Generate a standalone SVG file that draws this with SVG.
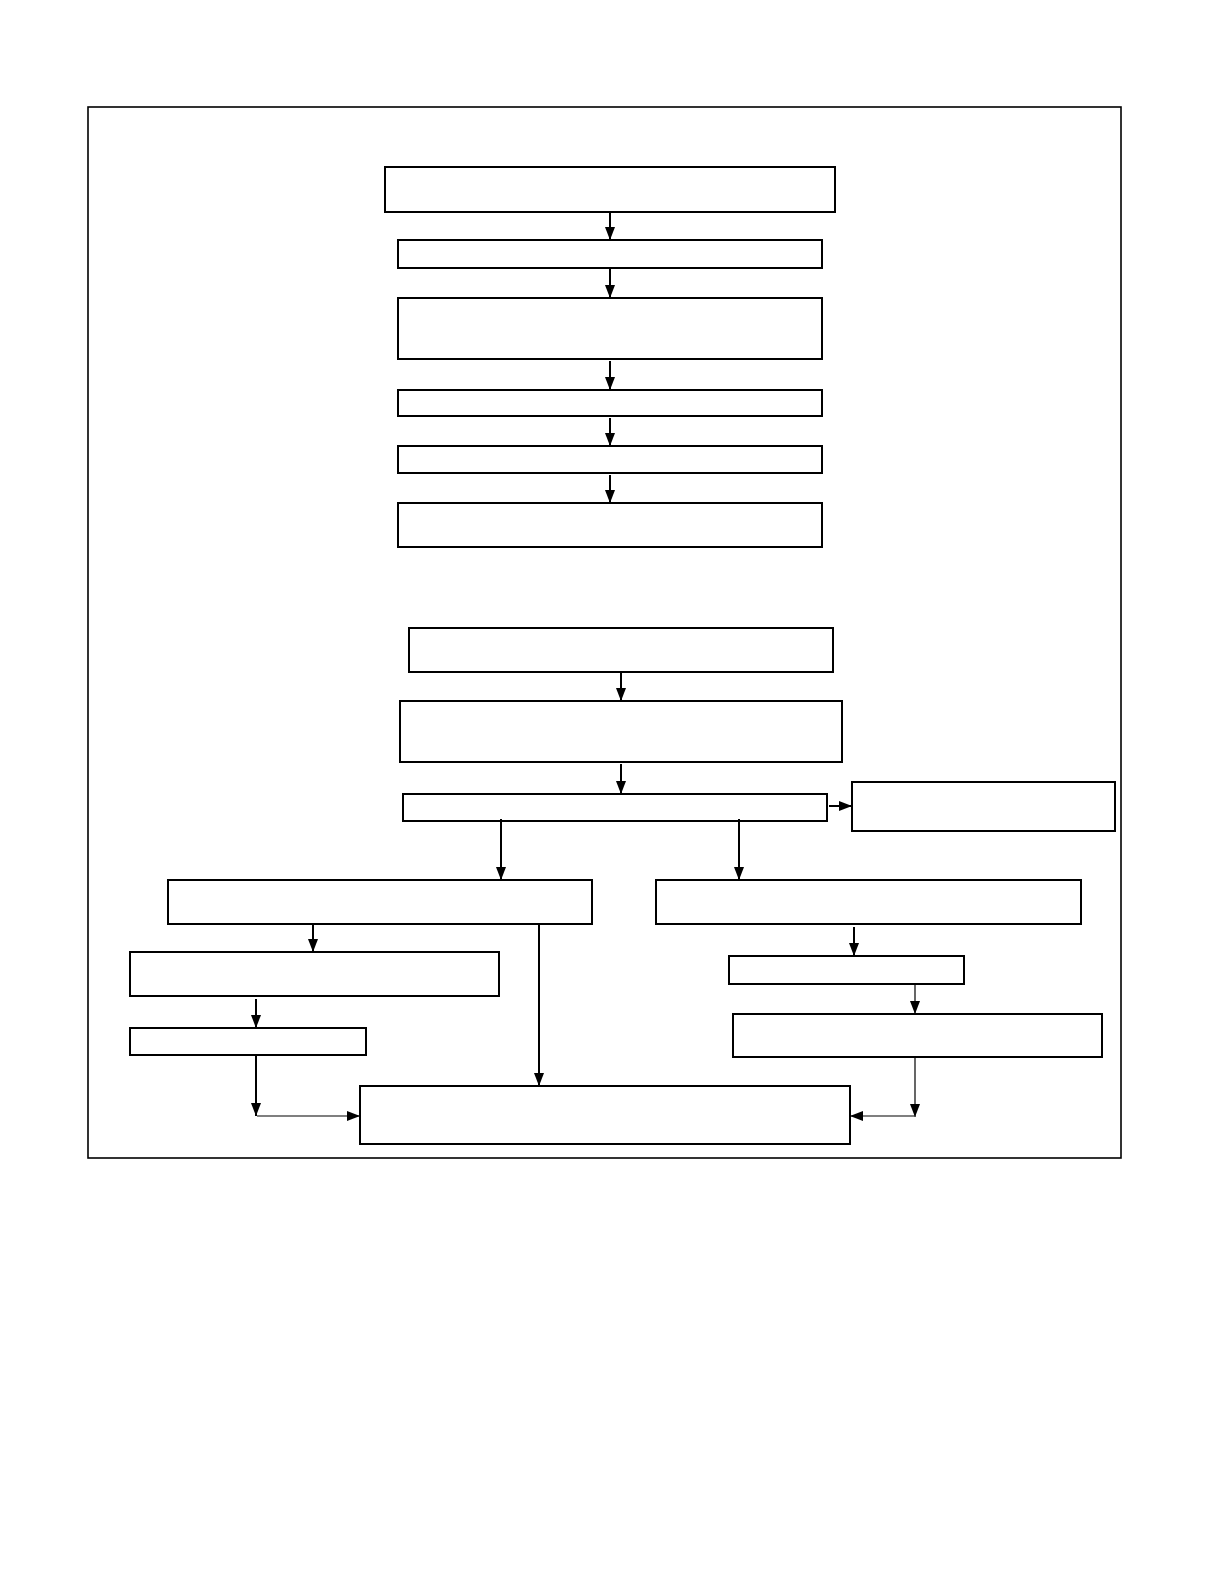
<svg xmlns="http://www.w3.org/2000/svg" width="1224" height="1584" viewBox="0 0 1224 1584">
<style>
.n{fill:#fff;stroke:#000;stroke-width:2}
.c{fill:none;stroke:#000;stroke-width:2}
.t{fill:none;stroke:#000;stroke-width:1.2}
</style>
<defs>
<marker id="a" markerUnits="userSpaceOnUse" markerWidth="14" markerHeight="10" refX="13" refY="5" orient="auto">
<path d="M0,0 L13,5 L0,10 z" fill="#000"/>
</marker>
</defs>
<rect x="0" y="0" width="1224" height="1584" fill="#fff"/>
<rect id="frame" x="88" y="107" width="1033" height="1051" fill="none" stroke="#000" stroke-width="1.6"/>
<g id="n1"><rect class="n" x="385" y="167" width="450" height="45"/></g>
<g id="n2"><rect class="n" x="398" y="240" width="424" height="28"/></g>
<g id="n3"><rect class="n" x="398" y="298" width="424" height="61"/></g>
<g id="n4"><rect class="n" x="398" y="390" width="424" height="26"/></g>
<g id="n5"><rect class="n" x="398" y="446" width="424" height="27"/></g>
<g id="n6"><rect class="n" x="398" y="503" width="424" height="44"/></g>
<g id="n7"><rect class="n" x="409" y="628" width="424" height="44"/></g>
<g id="n8"><rect class="n" x="400" y="701" width="442" height="61"/></g>
<g id="n9"><rect class="n" x="403" y="794" width="424" height="27"/></g>
<g id="n10"><rect class="n" x="852" y="782" width="263" height="49"/></g>
<g id="n11"><rect class="n" x="168" y="880" width="424" height="44"/></g>
<g id="n12"><rect class="n" x="656" y="880" width="425" height="44"/></g>
<g id="n13"><rect class="n" x="130" y="952" width="369" height="44"/></g>
<g id="n14"><rect class="n" x="130" y="1028" width="236" height="27"/></g>
<g id="n15"><rect class="n" x="729" y="956" width="235" height="28"/></g>
<g id="n16"><rect class="n" x="733" y="1014" width="369" height="43"/></g>
<g id="n17"><rect class="n" x="360" y="1086" width="490" height="58"/></g>
<g id="connectors">
<line class="c" x1="610" y1="212" x2="610" y2="240" marker-end="url(#a)"/>
<line class="c" x1="610" y1="268" x2="610" y2="298" marker-end="url(#a)"/>
<line class="c" x1="610" y1="361" x2="610" y2="390" marker-end="url(#a)"/>
<line class="c" x1="610" y1="418" x2="610" y2="446" marker-end="url(#a)"/>
<line class="c" x1="610" y1="475" x2="610" y2="503" marker-end="url(#a)"/>
<line class="c" x1="621" y1="672" x2="621" y2="701" marker-end="url(#a)"/>
<line class="c" x1="621" y1="764" x2="621" y2="794" marker-end="url(#a)"/>
<line class="c" x1="829" y1="806" x2="852" y2="806" marker-end="url(#a)"/>
<line class="c" x1="501" y1="819" x2="501" y2="880" marker-end="url(#a)"/>
<line class="c" x1="739" y1="819" x2="739" y2="880" marker-end="url(#a)"/>
<line class="c" x1="313" y1="924" x2="313" y2="952" marker-end="url(#a)"/>
<line class="c" x1="256" y1="999" x2="256" y2="1028" marker-end="url(#a)"/>
<line class="c" x1="539" y1="924" x2="539" y2="1086" marker-end="url(#a)"/>
<line class="c" x1="256" y1="1055" x2="256" y2="1116" marker-end="url(#a)"/>
<line class="t" x1="257" y1="1116" x2="360" y2="1116" marker-end="url(#a)"/>
<line class="c" x1="854" y1="927" x2="854" y2="956" marker-end="url(#a)"/>
<line class="t" x1="915" y1="984" x2="915" y2="1014" marker-end="url(#a)"/>
<line class="t" x1="915" y1="1057" x2="915" y2="1117" marker-end="url(#a)"/>
<line class="t" x1="914" y1="1116" x2="850" y2="1116" marker-end="url(#a)"/>
</g>
</svg>
